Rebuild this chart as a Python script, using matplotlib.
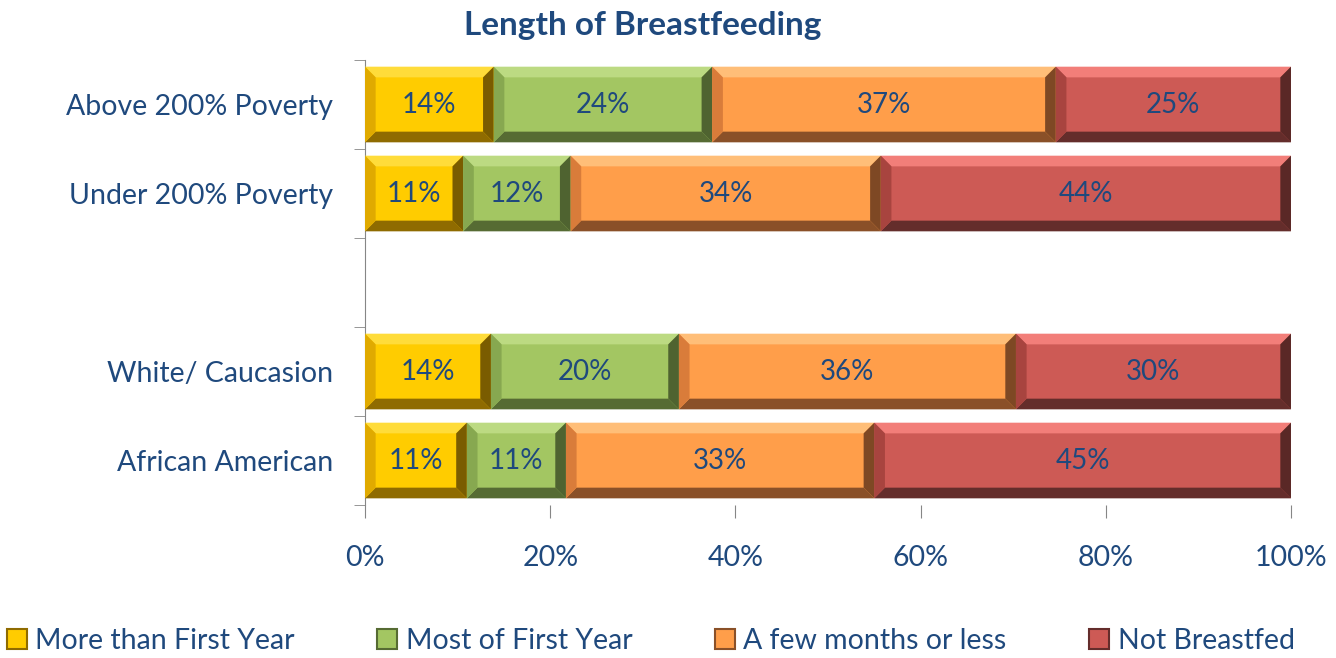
import matplotlib
matplotlib.use("Agg")
import matplotlib.pyplot as plt
from matplotlib.patches import Polygon, Patch

plt.rcParams['font.family'] = ['Lato', 'DejaVu Sans']

categories = ["Above 200% Poverty", "Under 200% Poverty", "", "White/ Caucasion", "African American"]
series = ["More than First Year", "Most of First Year", "A few months or less", "Not Breastfed"]
more_than_first_year = [13.9, 10.6, 0, 13.6, 11.0]
most_of_first_year   = [23.6, 11.6, 0, 20.3, 10.7]
few_months_or_less   = [37.1, 33.5, 0, 36.4, 33.3]
not_breastfed        = [25.4, 44.3, 0, 29.7, 45.0]
xticks = [0, 20, 40, 60, 80, 100]

values = [more_than_first_year, most_of_first_year, few_months_or_less, not_breastfed]
# face, top bevel, left bevel, bottom bevel, right bevel
palettes = [
    ("#FFCC00", "#FFDC3A", "#E0AA00", "#8F6B00", "#7A5C00"),
    ("#A3C662", "#BCDA82", "#87A850", "#566B33", "#4F6330"),
    ("#FF9E4A", "#FFBE78", "#D97C3A", "#8A5028", "#7E4824"),
    ("#CD5A55", "#F27E79", "#A8443F", "#642D2B", "#5A2826"),
]
text_color = "#1F497D"
axis_color = "#868686"

fig = plt.figure(figsize=(13.36, 6.58), dpi=100)
ax = fig.add_axes([0.2732, 0.2325, 0.6931, 0.6763])

ypos = list(range(len(categories)))
left = [0.0] * len(categories)
bar_h = 0.85
containers = []
for vals, pal in zip(values, palettes):
    tot = [sum(v[i] for v in values) for i in range(len(categories))]
    frac = [vals[i] / tot[i] * 100 if tot[i] else 0 for i in range(len(categories))]
    bc = ax.barh(ypos, frac, left=left, height=bar_h, color=pal[0], edgecolor='none', zorder=2)
    containers.append((bc, vals, pal))
    left = [l + f for l, f in zip(left, frac)]

ax.set_xlim(0, 100)
ax.set_ylim(len(categories) - 0.5, -0.5)

# bevels derived from bar rectangles
bx = 1.15   # x bevel in data units
by = 0.12   # y bevel in data units
for bc, vals, pal in containers:
    for rect, v in zip(bc.patches, vals):
        w = rect.get_width()
        if w <= 0:
            continue
        x0 = rect.get_x(); x1 = x0 + w
        yt = rect.get_y(); yb = yt + rect.get_height()
        polys = [
            ([(x0, yt), (x1, yt), (x1 - bx, yt + by), (x0 + bx, yt + by)], pal[1]),
            ([(x0, yb), (x1, yb), (x1 - bx, yb - by), (x0 + bx, yb - by)], pal[3]),
            ([(x0, yt), (x0 + bx, yt + by), (x0 + bx, yb - by), (x0, yb)], pal[2]),
            ([(x1, yt), (x1 - bx, yt + by), (x1 - bx, yb - by), (x1, yb)], pal[4]),
        ]
        for pts, c in polys:
            ax.add_patch(Polygon(pts, closed=True, facecolor=c, edgecolor='none', zorder=3))
        ax.text(x0 + w / 2, yt + rect.get_height() / 2, f"{round(v)}%", ha='center', va='center',
                fontsize=20, color=text_color, zorder=4)

for s in ['top', 'right', 'bottom']:
    ax.spines[s].set_visible(False)
ax.spines['left'].set_color(axis_color)

ax.set_xticks(xticks)
ax.set_xticklabels([f"{t}%" for t in xticks], fontsize=20.5, color=text_color)
ax.tick_params(axis='x', length=9, color=axis_color, pad=20)

ax.set_yticks(ypos)
ax.set_yticklabels(categories, fontsize=20.5, color=text_color)
ax.tick_params(axis='y', which='major', length=0, pad=23)
ax.set_yticks([p - 0.5 for p in ypos] + [len(categories) - 0.5], minor=True)
ax.tick_params(axis='y', which='minor', length=8, color=axis_color)

fig.text(0.481, 0.962, "Length of Breastfeeding", ha='center', va='center', fontsize=24,
         fontweight='bold', color=text_color)

handles = [Patch(facecolor=p[0], edgecolor=p[3], linewidth=1.5) for p in palettes]
leg = fig.legend(handles, series, loc='center', bbox_to_anchor=(0.487, 0.026), ncol=4, frameon=False,
                 fontsize=20.5, handlelength=0.7, handleheight=0.7, handletextpad=0.3, columnspacing=2.9,
                 borderpad=0.0)
for t in leg.get_texts():
    t.set_color(text_color)

fig.savefig("out.png", dpi=100)
